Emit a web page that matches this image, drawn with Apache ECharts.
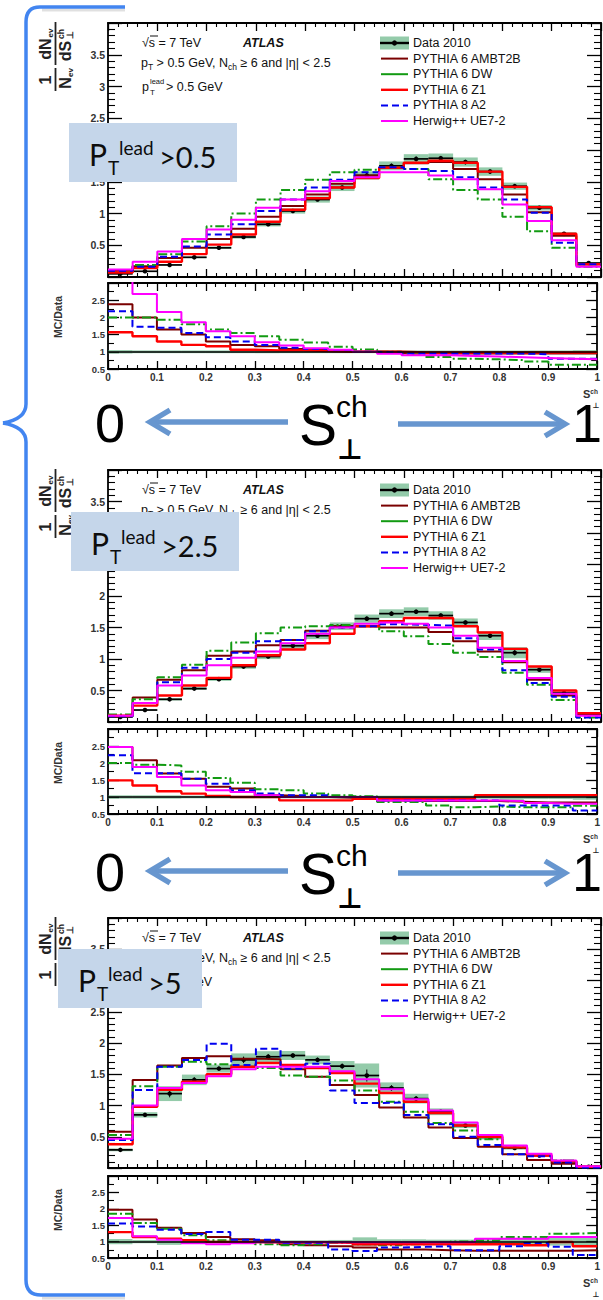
<!DOCTYPE html>
<html>
<head>
<meta charset="utf-8">
<title>Transverse sphericity S⊥ch — ATLAS √s = 7 TeV</title>
<script src="https://cdn.jsdelivr.net/npm/echarts@6/dist/echarts.min.js"></script>
<style>
  html, body { margin: 0; padding: 0; background: #fff; }
  #chart { width: 603px; height: 1300px; }
</style>
</head>
<body>
<div id="chart"></div>
<script>
// Bin edges in transverse sphericity S⊥ch (20 bins of width 0.05)
const binEdges = [0, 0.05, 0.1, 0.15, 0.2, 0.25, 0.3, 0.35, 0.4, 0.45, 0.5, 0.55, 0.6, 0.65, 0.7, 0.75, 0.8, 0.85, 0.9, 0.95, 1];
const xTickLabels = ['0', '0.1', '0.2', '0.3', '0.4', '0.5', '0.6', '0.7', '0.8', '0.9', '1'];
const mainYTickLabels = ['', '0.5', '1', '1.5', '2', '2.5', '3', '3.5', ''];
const ratioYTickLabels = ['0.5', '1', '1.5', '2', '2.5', ''];
const leadCuts = ['0.5', '2.5', '5'];
const legendNames = ['Data 2010', 'PYTHIA 6 AMBT2B', 'PYTHIA 6 DW', 'PYTHIA 6 Z1', 'PYTHIA 8 A2', 'Herwig++ UE7-2'];

// ---- p_T^lead > 0.5 GeV ----
const data_05   = [0.05, 0.09, 0.19, 0.31, 0.46, 0.63, 0.83, 1.04, 1.22, 1.41, 1.6, 1.75, 1.86, 1.87, 1.81, 1.66, 1.43, 1.09, 0.68, 0.22];
const relErr_05 = [0.05, 0.04, 0.04, 0.04, 0.04, 0.04, 0.04, 0.04, 0.04, 0.04, 0.04, 0.04, 0.04, 0.04, 0.04, 0.04, 0.04, 0.04, 0.04, 0.05];
const ambt2b_05 = [0.1, 0.17, 0.3, 0.46, 0.6, 0.76, 0.95, 1.12, 1.3, 1.47, 1.6, 1.72, 1.79, 1.81, 1.7, 1.54, 1.3, 1.02, 0.65, 0.2];
const dw_05     = [0.08, 0.19, 0.36, 0.56, 0.8, 1.0, 1.22, 1.37, 1.53, 1.65, 1.69, 1.73, 1.7, 1.54, 1.37, 1.22, 0.95, 0.72, 0.46, 0.16];
const z1_05     = [0.07, 0.14, 0.24, 0.36, 0.51, 0.67, 0.87, 1.06, 1.24, 1.41, 1.56, 1.72, 1.8, 1.83, 1.8, 1.66, 1.42, 1.1, 0.68, 0.2];
const a2_05     = [0.1, 0.16, 0.32, 0.48, 0.67, 0.83, 1.04, 1.22, 1.41, 1.53, 1.65, 1.73, 1.7, 1.67, 1.57, 1.41, 1.22, 1.01, 0.54, 0.2];
const herwig_05 = [0.12, 0.24, 0.4, 0.6, 0.75, 0.9, 1.09, 1.22, 1.35, 1.51, 1.57, 1.65, 1.65, 1.6, 1.54, 1.38, 1.14, 0.88, 0.58, 0.16];
const ratioAmbt2b_05 = [2.38, 2.0, 1.65, 1.5, 1.3, 1.2, 1.16, 1.08, 1.06, 1.04, 1.0, 1.0, 0.96, 0.95, 0.95, 0.95, 0.95, 0.95, 0.95, 0.95];
const ratioDw_05     = [2.0, 2.0, 1.93, 1.8, 1.65, 1.55, 1.45, 1.35, 1.27, 1.15, 1.07, 1.0, 0.94, 0.85, 0.8, 0.78, 0.76, 0.72, 0.62, 0.62];
const ratioZ1_05     = [1.57, 1.45, 1.3, 1.2, 1.16, 1.06, 1.04, 1.04, 1.02, 1.0, 1.0, 1.0, 0.98, 0.98, 0.98, 0.98, 0.98, 0.98, 0.98, 0.98];
const ratioA2_05     = [2.18, 1.73, 1.7, 1.55, 1.42, 1.3, 1.2, 1.12, 1.08, 1.05, 1.0, 0.98, 0.95, 0.95, 0.95, 0.95, 0.95, 0.93, 0.8, 0.8];
const ratioHerwig_05 = [3.4, 2.68, 2.16, 1.86, 1.6, 1.45, 1.28, 1.18, 1.1, 1.06, 1.0, 0.94, 0.9, 0.9, 0.88, 0.86, 0.84, 0.82, 0.8, 0.78];

// ---- p_T^lead > 2.5 GeV ----
const data_25   = [0.08, 0.19, 0.36, 0.53, 0.68, 0.88, 1.04, 1.21, 1.37, 1.52, 1.64, 1.72, 1.75, 1.69, 1.58, 1.37, 1.1, 0.83, 0.46, 0.12];
const relErr_25 = [0.05, 0.05, 0.05, 0.04, 0.04, 0.04, 0.04, 0.04, 0.04, 0.04, 0.04, 0.04, 0.04, 0.04, 0.04, 0.05, 0.08, 0.06, 0.06, 0.08];
const ambt2b_25 = [0.09, 0.39, 0.67, 0.82, 1.05, 1.12, 1.22, 1.3, 1.45, 1.52, 1.52, 1.5, 1.5, 1.43, 1.28, 1.12, 0.95, 0.67, 0.42, 0.14];
const dw_25     = [0.12, 0.36, 0.71, 0.91, 1.13, 1.26, 1.41, 1.5, 1.52, 1.54, 1.52, 1.44, 1.36, 1.24, 1.1, 1.03, 0.78, 0.59, 0.35, 0.07];
const z1_25     = [0.1, 0.26, 0.42, 0.58, 0.7, 0.9, 1.06, 1.15, 1.25, 1.4, 1.52, 1.6, 1.65, 1.65, 1.52, 1.42, 1.16, 0.88, 0.5, 0.14];
const a2_25     = [0.09, 0.3, 0.63, 0.86, 1.0, 1.1, 1.28, 1.3, 1.44, 1.5, 1.52, 1.55, 1.54, 1.53, 1.33, 1.15, 0.82, 0.62, 0.4, 0.07];
const herwig_25 = [0.1, 0.3, 0.58, 0.74, 0.9, 1.02, 1.12, 1.25, 1.4, 1.5, 1.56, 1.58, 1.56, 1.5, 1.37, 1.18, 0.97, 0.7, 0.45, 0.1];
const ratioAmbt2b_25 = [2.47, 2.08, 1.69, 1.54, 1.3, 1.25, 1.05, 1.03, 1.0, 0.98, 0.98, 0.9, 0.88, 0.88, 0.88, 0.88, 0.86, 0.84, 0.84, 0.84];
const ratioDw_25     = [2.0, 1.95, 1.93, 1.74, 1.56, 1.42, 1.23, 1.2, 1.1, 1.05, 1.02, 0.85, 0.85, 0.75, 0.7, 0.72, 0.7, 0.7, 0.7, 0.74];
const ratioZ1_25     = [1.49, 1.34, 1.17, 1.1, 1.03, 1.0, 1.0, 0.9, 0.9, 0.9, 0.95, 0.95, 0.95, 0.95, 0.95, 1.05, 1.05, 1.05, 1.05, 1.05];
const ratioA2_25     = [2.23, 1.7, 1.7, 1.54, 1.39, 1.2, 1.1, 1.05, 1.05, 1.0, 1.0, 0.9, 0.9, 0.9, 0.9, 0.9, 0.75, 0.75, 0.75, 0.6];
const ratioHerwig_25 = [2.47, 1.88, 1.59, 1.34, 1.2, 1.15, 1.05, 1.0, 1.0, 1.0, 1.0, 0.9, 0.9, 0.9, 0.9, 0.9, 0.88, 0.82, 0.8, 0.8];

// ---- p_T^lead > 5 GeV ----
const data_5    = [0.29, 0.85, 1.19, 1.41, 1.59, 1.73, 1.78, 1.8, 1.73, 1.63, 1.48, 1.28, 1.11, 0.9, 0.68, 0.49, 0.32, 0.2, 0.1, 0.02];
const relErr_5  = [0.08, 0.05, 0.1, 0.06, 0.04, 0.06, 0.05, 0.04, 0.04, 0.05, 0.13, 0.07, 0.07, 0.06, 0.06, 0.07, 0.08, 0.1, 0.12, 0.15];
const ambt2b_5  = [0.58, 1.41, 1.64, 1.76, 1.79, 1.75, 1.74, 1.58, 1.46, 1.33, 1.17, 0.97, 0.81, 0.65, 0.48, 0.34, 0.22, 0.13, 0.07, 0.02];
const dw_5      = [0.53, 1.31, 1.62, 1.7, 1.66, 1.62, 1.6, 1.48, 1.46, 1.4, 1.24, 1.06, 0.9, 0.72, 0.6, 0.46, 0.33, 0.22, 0.12, 0.03];
const z1_5      = [0.38, 0.98, 1.25, 1.38, 1.5, 1.62, 1.68, 1.65, 1.6, 1.52, 1.35, 1.2, 1.06, 0.88, 0.68, 0.5, 0.33, 0.2, 0.11, 0.02];
const a2_5      = [0.45, 1.25, 1.62, 1.73, 1.99, 1.65, 1.91, 1.59, 1.67, 1.24, 1.04, 1.05, 0.85, 0.7, 0.5, 0.37, 0.22, 0.19, 0.09, 0.01];
const herwig_5  = [0.47, 1.0, 1.28, 1.36, 1.47, 1.58, 1.62, 1.62, 1.62, 1.55, 1.42, 1.26, 1.1, 0.92, 0.73, 0.53, 0.36, 0.23, 0.12, 0.03];
const ratioAmbt2b_5 = [1.97, 1.67, 1.42, 1.26, 1.14, 1.07, 1.04, 0.92, 0.89, 0.86, 0.82, 0.76, 0.76, 0.74, 0.72, 0.72, 0.72, 0.72, 0.72, 0.74];
const ratioDw_5     = [1.85, 1.57, 1.39, 1.19, 1.04, 0.99, 0.92, 0.89, 0.92, 0.96, 0.92, 0.89, 0.92, 0.96, 1.0, 1.04, 1.14, 1.14, 1.24, 1.26];
const ratioZ1_5     = [1.29, 1.14, 1.09, 1.04, 0.99, 0.99, 0.98, 0.98, 0.98, 0.96, 0.92, 0.92, 0.92, 0.92, 0.92, 0.92, 0.92, 0.89, 0.99, 0.86];
const ratioA2_5     = [1.55, 1.46, 1.36, 1.23, 1.29, 1.06, 1.06, 0.96, 0.96, 0.76, 0.71, 0.82, 0.84, 0.86, 0.74, 0.74, 0.86, 0.96, 0.84, 0.59];
const ratioHerwig_5 = [1.72, 1.16, 1.06, 0.95, 0.92, 0.95, 0.98, 0.98, 0.98, 0.98, 0.98, 0.98, 0.98, 0.98, 0.98, 1.09, 1.09, 1.09, 1.14, 1.14];

// Line styles of the generator predictions
const models = [
  { color: '#7a0000', width: 2.0, type: 'solid' },
  { color: '#129a12', width: 2.0, type: [9, 3, 2, 3] },
  { color: '#ff0000', width: 2.4, type: 'solid' },
  { color: '#0000f0', width: 2.0, type: [7, 4] },
  { color: '#ff00ff', width: 2.0, type: 'solid' }
];
const BAND = 'rgba(60,160,100,0.55)';
const FONT = 'Liberation Sans';

// Page layout of the three pads (main + ratio).
// coveredLabels: tick labels that sit fully under the p_T^lead box; leadLine: how much of
// the third header line is left uncovered by that box.
const panels = [
  { top: 23,  height: 254, rTop: 283,  rHeight: 86, box: { x: 69, y: 123, w: 168 },
    coveredLabels: ['2'], leadLine: 'full',
    data: data_05, err: relErr_05, mc: [ambt2b_05, dw_05, z1_05, a2_05, herwig_05],
    ratio: [ratioAmbt2b_05, ratioDw_05, ratioZ1_05, ratioA2_05, ratioHerwig_05] },
  { top: 470, height: 252, rTop: 729,  rHeight: 85, box: { x: 71, y: 512, w: 168 },
    coveredLabels: ['3', '2.5'], leadLine: 'none',
    data: data_25, err: relErr_25, mc: [ambt2b_25, dw_25, z1_25, a2_25, herwig_25],
    ratio: [ratioAmbt2b_25, ratioDw_25, ratioZ1_25, ratioA2_25, ratioHerwig_25] },
  { top: 918, height: 250, rTop: 1176, rHeight: 82, box: { x: 58, y: 949, w: 144 },
    coveredLabels: ['3'], leadLine: 'tail',
    data: data_5, err: relErr_5, mc: [ambt2b_5, dw_5, z1_5, a2_5, herwig_5],
    ratio: [ratioAmbt2b_5, ratioDw_5, ratioZ1_5, ratioA2_5, ratioHerwig_5] }
];
const arrowRows = [422, 871];

// ---------- helpers ----------
function stepPoints(vals) {
  const pts = vals.map((v, i) => [binEdges[i], v]);
  pts.push([binEdges[vals.length], vals[vals.length - 1]]);
  return pts;
}
function bandItem(params, api) {
  const a = api.coord([api.value(0), api.value(3)]);
  const b = api.coord([api.value(1), api.value(2)]);
  return { type: 'rect', shape: { x: a[0], y: a[1], width: b[0] - a[0], height: b[1] - a[1] },
           style: { fill: BAND } };
}
function pointItem(params, api) {
  const x0 = api.value(0), x1 = api.value(1), y = api.value(2);
  const xm = (x0 + x1) / 2;
  const l = api.coord([x0, y]), r = api.coord([x1, y]);
  const t = api.coord([xm, api.value(4)]), b = api.coord([xm, api.value(3)]);
  return { type: 'group', children: [
    { type: 'line', shape: { x1: l[0], y1: l[1], x2: r[0], y2: r[1] }, style: { stroke: '#000', lineWidth: 1.7 } },
    { type: 'line', shape: { x1: t[0], y1: t[1], x2: b[0], y2: b[1] }, style: { stroke: '#000', lineWidth: 1 } },
    { type: 'circle', shape: { cx: (l[0] + r[0]) / 2, cy: l[1], r: 2.3 }, style: { fill: '#000' } }
  ] };
}
function xAxisCfg(g, pos, labels) {
  return {
    type: 'value', gridIndex: g, position: pos, min: 0, max: 1, interval: 0.1, silent: true,
    axisLine: { show: true, onZero: false, lineStyle: { color: '#000', width: 1.8 } },
    axisTick: { show: true, inside: true, length: 8, lineStyle: { color: '#000', width: 1.3 } },
    minorTick: { show: true, splitNumber: 5, length: 4, lineStyle: { color: '#000', width: 1.1 } },
    splitLine: { show: false }, minorSplitLine: { show: false },
    axisLabel: { show: labels, margin: 3, fontSize: 10, fontWeight: 'bold', color: '#333', fontFamily: FONT,
                 formatter: v => xTickLabels[Math.round(v * 10)] }
  };
}
function yAxisCfg(g, pos, isRatio, labels, covered) {
  return {
    type: 'value', gridIndex: g, position: pos, silent: true,
    min: isRatio ? 0.5 : 0, max: isRatio ? 3 : 4, interval: 0.5,
    axisLine: { show: true, onZero: false, lineStyle: { color: '#000', width: 1.8 } },
    axisTick: { show: true, inside: true, length: isRatio ? 11 : 14, lineStyle: { color: '#000', width: 1.3 } },
    minorTick: { show: true, splitNumber: isRatio ? 2 : 5, length: isRatio ? 6 : 7, lineStyle: { color: '#000', width: 1.1 } },
    splitLine: { show: false }, minorSplitLine: { show: false },
    axisLabel: { show: labels, margin: 3, fontSize: isRatio ? 9.5 : 10.5, fontWeight: 'bold', color: '#333', fontFamily: FONT,
                 formatter: v => {
                   const s = isRatio ? ratioYTickLabels[Math.round((v - 0.5) / 0.5)]
                                     : mainYTickLabels[Math.round(v / 0.5)];
                   return (covered && covered.indexOf(s) >= 0) ? '' : s;
                 } }
  };
}
function txt(x, y, text, size, extra) {
  return Object.assign({ type: 'text', x: x, y: y, silent: true, z: 10,
    style: Object.assign({ text: text, fontSize: size, fontFamily: FONT, fill: '#111',
                           textAlign: 'left', textVerticalAlign: 'middle' }, (extra && extra.style) || {}) },
    extra && extra.el || {});
}

// ---------- grids, axes, series ----------
const grid = [], xAxis = [], yAxis = [], series = [];
panels.forEach((p, k) => {
  const gm = 2 * k, gr = 2 * k + 1;
  grid.push({ left: 108, top: p.top, width: 493, height: p.height });
  grid.push({ left: 108, top: p.rTop, width: 493, height: p.rHeight });
  xAxis.push(xAxisCfg(gm, 'bottom', false), xAxisCfg(gm, 'top', false));
  xAxis.push(xAxisCfg(gr, 'bottom', true), xAxisCfg(gr, 'top', false));
  yAxis.push(yAxisCfg(gm, 'left', false, true, p.coveredLabels), yAxisCfg(gm, 'right', false, false));
  yAxis.push(yAxisCfg(gr, 'left', true, true), yAxisCfg(gr, 'right', true, false));
  const mx = 2 * gm, rx = 2 * gr;

  // data uncertainty band
  series.push({ type: 'custom', name: legendNames[0], xAxisIndex: mx, yAxisIndex: mx, silent: true,
    renderItem: bandItem,
    data: p.data.map((v, i) => [binEdges[i], binEdges[i + 1], v * (1 - p.err[i]), v * (1 + p.err[i])]) });
  // generator predictions
  p.mc.forEach((vals, m) => {
    series.push({ type: 'line', name: legendNames[m + 1], xAxisIndex: mx, yAxisIndex: mx, step: 'end',
      symbol: 'none', silent: true, clip: true, data: stepPoints(vals),
      lineStyle: { color: models[m].color, width: models[m].width, type: models[m].type } });
  });
  // data points
  series.push({ type: 'custom', name: legendNames[0], xAxisIndex: mx, yAxisIndex: mx, silent: true,
    renderItem: pointItem,
    data: p.data.map((v, i) => [binEdges[i], binEdges[i + 1], v, v * (1 - p.err[i] * 0.5), v * (1 + p.err[i] * 0.5)]) });

  // ratio pad: relative data uncertainty around unity
  series.push({ type: 'custom', xAxisIndex: rx, yAxisIndex: rx, silent: true, renderItem: bandItem,
    data: p.err.map((e, i) => [binEdges[i], binEdges[i + 1], 1 - e, 1 + e]) });
  p.ratio.forEach((vals, m) => {
    const s = { type: 'line', xAxisIndex: rx, yAxisIndex: rx, step: 'end', symbol: 'none', silent: true,
      clip: true, data: stepPoints(vals),
      lineStyle: { color: models[m].color, width: models[m].width, type: models[m].type } };
    if (m === 0) {
      s.markLine = { silent: true, symbol: 'none', label: { show: false }, animation: false,
        lineStyle: { color: '#000', width: 1.6, type: 'solid' }, data: [{ yAxis: 1 }] };
    }
    series.push(s);
  });
});

// ---------- annotations ----------
const G = [];
// curly brace grouping the three pads
const BRACE = { stroke: '#4285f0', lineWidth: 3.5, fill: null };
const braceParts = [
  { type: 'line', shape: { x1: 125, y1: 7, x2: 40, y2: 7 } },
  { type: 'bezierCurve', shape: { x1: 40, y1: 7, cpx1: 26, cpy1: 7, x2: 26, y2: 22 } },
  { type: 'line', shape: { x1: 26, y1: 22, x2: 26, y2: 404 } },
  { type: 'bezierCurve', shape: { x1: 26, y1: 404, cpx1: 26, cpy1: 419, x2: 3, y2: 423 } },
  { type: 'bezierCurve', shape: { x1: 3, y1: 423, cpx1: 26, cpy1: 427, x2: 26, y2: 442 } },
  { type: 'line', shape: { x1: 26, y1: 442, x2: 26, y2: 1280 } },
  { type: 'bezierCurve', shape: { x1: 26, y1: 1280, cpx1: 26, cpy1: 1295, x2: 41, y2: 1295 } },
  { type: 'line', shape: { x1: 41, y1: 1295, x2: 125, y2: 1295 } }
];
// soft grey shadow under the top and bottom arms
G.push({ type: 'line', silent: true, z: 49, shape: { x1: 42, y1: 10, x2: 125, y2: 10 }, style: { stroke: 'rgba(0,0,0,0.12)', lineWidth: 3 } });
G.push({ type: 'line', silent: true, z: 49, shape: { x1: 42, y1: 1298, x2: 125, y2: 1298 }, style: { stroke: 'rgba(0,0,0,0.12)', lineWidth: 3 } });
braceParts.forEach(el => G.push(Object.assign({ silent: true, z: 50, style: Object.assign({}, BRACE) }, el)));

// "0 ← S⊥ch → 1" rows between pads
const ARROW = '#6796cf';
arrowRows.forEach(cy => {
  G.push(txt(110, cy + 1, '0', 54, { style: { textAlign: 'center', fill: '#000' } }));
  G.push(txt(587, cy + 1, '1', 54, { style: { textAlign: 'center', fill: '#000' } }));
  G.push({ type: 'line', silent: true, z: 10, shape: { x1: 288, y1: cy, x2: 152, y2: cy }, style: { stroke: ARROW, lineWidth: 5.5 } });
  G.push({ type: 'polyline', silent: true, z: 10, shape: { points: [[170, cy - 12], [150, cy], [170, cy + 12]] },
           style: { stroke: ARROW, lineWidth: 5.5, fill: null, lineJoin: 'miter' } });
  G.push({ type: 'line', silent: true, z: 10, shape: { x1: 398, y1: cy + 2, x2: 561, y2: cy + 2 }, style: { stroke: ARROW, lineWidth: 5.5 } });
  G.push({ type: 'polyline', silent: true, z: 10, shape: { points: [[545, cy - 10], [565, cy + 2], [545, cy + 14]] },
           style: { stroke: ARROW, lineWidth: 5.5, fill: null, lineJoin: 'miter' } });
  G.push(txt(318, cy + 3, 'S', 57, { style: { textAlign: 'center', fill: '#000' } }));
  G.push(txt(336, cy - 16, 'ch', 30, { style: { fill: '#000' } }));
  G.push(txt(350, cy + 27, '⊥', 28, { style: { textAlign: 'center', fill: '#000', fontWeight: 'bold', fontFamily: 'DejaVu Sans' } }));
});

panels.forEach((p, k) => {
  const T = p.top;
  // header text
  G.push(txt(142, T + 20, '√s = 7 TeV', 12.5));
  G.push({ type: 'line', silent: true, z: 10, shape: { x1: 150, y1: T + 13, x2: 158, y2: T + 13 }, style: { stroke: '#111', lineWidth: 1 } });
  G.push(txt(243, T + 20, 'ATLAS', 12.5, { style: { fontWeight: 'bold', fontStyle: 'italic' } }));
  G.push(txt(141, T + 40, 'p{s|T} > 0.5 GeV, N{s|ch} ≥ 6 and |η| < 2.5', 12.5,
    { style: { lineHeight: 16, rich: { s: { fontSize: 8.5, fontFamily: FONT, fill: '#111', verticalAlign: 'bottom', lineHeight: 9 } } } }));
  if (p.leadLine === 'full') {
    G.push(txt(142, T + 64, 'p', 12.5));
    G.push(txt(150, T + 58.5, 'lead', 7.5));
    G.push(txt(150, T + 69.5, 'T', 8));
  }
  if (p.leadLine !== 'none') {
    G.push(txt(166, T + 64, '> ' + leadCuts[k] + ' GeV', 12.5));
  }

  // legend
  legendNames.forEach((name, i) => {
    const y = T + 20 + i * 15.6;
    if (i === 0) {
      G.push({ type: 'rect', silent: true, z: 10, shape: { x: 380, y: y - 6.5, width: 29, height: 13 }, style: { fill: BAND } });
      G.push({ type: 'line', silent: true, z: 11, shape: { x1: 380, y1: y, x2: 409, y2: y }, style: { stroke: '#000', lineWidth: 2.4 } });
      G.push({ type: 'circle', silent: true, z: 11, shape: { cx: 394.5, cy: y, r: 2.6 }, style: { fill: '#000' } });
    } else {
      const md = models[i - 1];
      G.push({ type: 'line', silent: true, z: 10, shape: { x1: 381, y1: y, x2: 408, y2: y },
        style: { stroke: md.color, lineWidth: md.width, lineDash: i === 4 ? [7, 4] : null } });
    }
    G.push(txt(413, y, name, 12.5));
  });

  // y title of main pad: 1/N_ev dN_ev/dS⊥ch
  const yt = (x, y, text, size) => ({ type: 'text', x: x, y: y, silent: true,
    style: { text: text, fontSize: size, fontFamily: FONT, fontWeight: 'bold', fill: '#222',
             textAlign: 'center', textVerticalAlign: 'middle' } });
  G.push({ type: 'group', x: 55.5, y: T + 69, rotation: Math.PI / 2, silent: true, z: 10, children: [
    yt(12, -10, '1', 16),
    { type: 'line', shape: { x1: 1, y1: 0, x2: 24, y2: 0 }, style: { stroke: '#222', lineWidth: 1.8 } },
    yt(9, 10, 'N', 16), yt(19.5, 15, 'ev', 8),
    yt(43, -10, 'dN', 16), yt(59, -5, 'ev', 8),
    { type: 'line', shape: { x1: 27, y1: 0, x2: 70, y2: 0 }, style: { stroke: '#222', lineWidth: 1.8 } },
    yt(41, 10, 'dS', 16), yt(58, 5, 'ch', 8.5), yt(57, 14, '⊥', 9)
  ] });
  // y title of ratio pad
  G.push({ type: 'text', x: 58, y: p.rTop + 34, rotation: Math.PI / 2, silent: true, z: 10,
    style: { text: 'MC/Data', fontSize: 10.5, fontWeight: 'bold', fontFamily: FONT, fill: '#333',
             textAlign: 'center', textVerticalAlign: 'middle' } });
  // x title below ratio pad: S^ch with ⊥ underneath
  const by = p.rTop + p.rHeight;
  G.push(txt(583, by + 25, 'S{c|ch}', 11, { style: { fontWeight: 'bold', fill: '#333', lineHeight: 12,
    rich: { c: { fontSize: 6.5, fontWeight: 'bold', fontFamily: FONT, fill: '#333', verticalAlign: 'top', lineHeight: 7 } } } }));
  G.push(txt(596, by + 36, '⊥', 7.5, { style: { textAlign: 'center', fontWeight: 'bold', fill: '#222', fontFamily: 'DejaVu Sans' } }));

  // p_T^lead label box
  const b = p.box;
  G.push({ type: 'rect', silent: true, z: 100, shape: { x: b.x, y: b.y, width: b.w, height: 59 }, style: { fill: '#c5d6ea' } });
  const bf = 'Lato';
  G.push(txt(b.x + 20, b.y + 31, 'P', 30, { el: { z: 101 }, style: { fontFamily: bf, fill: '#0d0d0d' } }));
  G.push(txt(b.x + 39, b.y + 44, 'T', 19, { el: { z: 101 }, style: { fontFamily: bf, fill: '#0d0d0d' } }));
  G.push(txt(b.x + 50, b.y + 24, 'lead', 19, { el: { z: 101 }, style: { fontFamily: bf, fill: '#0d0d0d' } }));
  G.push(txt(b.x + 90, b.y + 33, '>' + leadCuts[k], 29, { el: { z: 101 }, style: { fontFamily: bf, fill: '#0d0d0d' } }));
});

const chart = echarts.init(document.getElementById('chart'), null, { renderer: 'svg', width: 603, height: 1300 });
chart.setOption({
  animation: false,
  backgroundColor: '#ffffff',
  grid: grid,
  xAxis: xAxis,
  yAxis: yAxis,
  series: series,
  graphic: { elements: G }
});
</script>
</body>
</html>
